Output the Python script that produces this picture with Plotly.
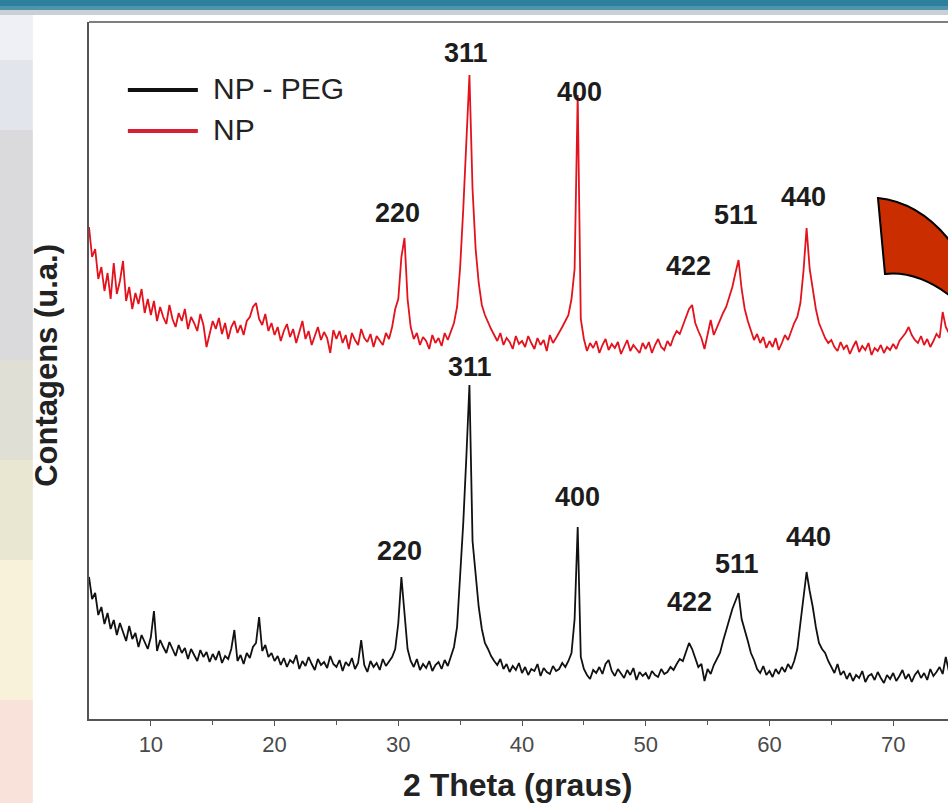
import plotly.graph_objects as go

# ---------------- data (heights in arbitrary units) ----------------
start_deg = 5.0
step_deg = 0.25

np_peg = [
    142, 120, 126, 104, 112, 95, 106, 90, 99, 84, 96, 88, 78, 93, 80, 86, 72, 84, 76, 70,
    82, 108, 68, 79, 72, 66, 77, 69, 63, 74, 66, 71, 60, 70, 64, 58, 69, 62, 67, 57,
    65, 59, 68, 56, 63, 60, 70, 89, 58, 64, 55, 66, 61, 72, 76, 102, 68, 74, 62, 66,
    58, 63, 54, 61, 52, 59, 56, 64, 50, 58, 53, 62, 55, 49, 60, 54, 57, 51, 63, 55,
    52, 59, 48, 57, 53, 61, 50, 56, 79, 54, 47, 58, 52, 56, 49, 60, 53, 57, 62, 70,
    96, 142, 104, 70, 58, 52, 60, 49, 55, 51, 58, 48, 54, 57, 50, 59, 53, 62, 72, 92,
    140, 196, 262, 334, 178, 146, 112, 90, 76, 70, 63, 58, 54, 60, 50, 55, 47, 53, 49, 56,
    46, 52, 44, 50, 48, 55, 43, 51, 47, 45, 53, 48, 50, 56, 52, 58, 66, 100, 192, 62,
    50, 44, 40, 49, 46, 52, 45, 55, 59, 48, 43, 50, 46, 41, 49, 44, 51, 39, 47, 43,
    46, 40, 48, 44, 42, 50, 45, 47, 52, 49, 55, 60, 58, 66, 76, 70, 60, 52, 55, 38,
    50, 45, 54, 60, 66, 78, 89, 100, 110, 118, 126, 100, 90, 78, 66, 59, 50, 46, 53, 44,
    48, 42, 50, 45, 52, 47, 55, 50, 58, 70, 96, 120, 147, 128, 112, 92, 76, 70, 66, 58,
    52, 46, 55, 44, 48, 40, 46, 38, 44, 41, 48, 37, 43, 45, 39, 47, 41, 36, 44, 40,
    46, 38, 43, 49, 40, 45, 37, 44, 48, 41, 46, 39, 50, 43, 47, 52, 45, 62, 48, 44,
]

np_bare = [
    492, 462, 470, 440, 452, 428, 446, 420, 456, 425, 438, 458, 418, 432, 410, 426, 415, 430, 406, 420,
    404, 418, 398, 412, 402, 395, 414, 400, 392, 406, 398, 410, 390, 402, 396, 388, 405, 394, 372, 386,
    398, 390, 401, 385, 396, 380, 392, 398, 386, 394, 384, 398, 402, 412, 416, 400, 394, 405, 388, 396,
    384, 392, 378, 388, 395, 382, 390, 376, 386, 398, 380, 388, 374, 384, 392, 379, 387, 381, 366, 389,
    380, 388, 376, 384, 370, 386, 379, 374, 390, 381, 377, 385, 372, 383, 378, 374, 386, 380, 392, 410,
    420, 462, 481, 420, 392, 380, 386, 374, 382, 378, 370, 384, 376, 381, 373, 386, 379, 388, 396, 412,
    452, 510, 580, 644, 530, 470, 436, 414, 404, 396, 390, 384, 378, 386, 374, 381, 377, 370, 383, 375,
    378, 372, 383, 376, 370, 381, 374, 379, 368, 384, 376, 381, 386, 392, 398, 404, 420, 450, 624, 400,
    380, 368, 376, 371, 378, 366, 374, 380, 369, 375, 371, 377, 365, 373, 379, 368, 374, 370, 366, 376,
    370, 377, 366, 374, 380, 372, 369, 378, 373, 382, 388, 385, 394, 402, 410, 414, 396, 388, 381, 370,
    386, 399, 384, 392, 398, 406, 412, 422, 432, 446, 459, 430, 410, 398, 388, 379, 385, 376, 382, 371,
    378, 372, 381, 369, 376, 384, 379, 388, 396, 402, 416, 448, 491, 450, 429, 410, 396, 388, 381, 376,
    379, 372, 368, 377, 370, 374, 365, 372, 378, 367, 373, 369, 376, 364, 371, 368, 374, 366, 372, 369,
    375, 370, 378, 382, 386, 392, 384, 379, 376, 383, 374, 380, 372, 378, 385, 381, 407, 392, 386, 380,
]

two_theta = [round(start_deg + step_deg * i, 2) for i in range(len(np_peg))]

peak_hkl = ["220", "311", "400", "422", "511", "440"]
np_label_x = [29.97, 35.48, 44.68, 53.42, 57.30, 62.79]
np_label_y = [506, 666, 627, 453, 504, 522]
peg_label_x = [30.13, 35.79, 44.52, 53.57, 57.37, 63.12]
peg_label_y = [168, 352, 222, 117, 155, 182]

x_ticks = [10, 20, 30, 40, 50, 60, 70]
series_names = ["NP - PEG", "NP"]

# ---------------- layout helpers (pixel -> paper) ----------------
W, H = 948, 803
L, R, T, B = 89.15, 0, 22, 84
PW = W - L - R
PH = H - T - B


def px(x):
    return (x - L) / PW


def py(y):
    return (H - B - y) / PH


FONT = "Liberation Sans, Arial, sans-serif"
BLACK = "#111111"
RED = "#e3121c"

fig = go.Figure()
fig.add_trace(go.Scatter(x=two_theta, y=np_peg, mode="lines", name=series_names[0],
                         line=dict(color=BLACK, width=1.8), showlegend=False))
fig.add_trace(go.Scatter(x=two_theta, y=np_bare, mode="lines", name=series_names[1],
                         line=dict(color=RED, width=1.8), showlegend=False))

shapes = []
# top banner
shapes.append(dict(type="rect", xref="paper", yref="paper", x0=px(-5), x1=px(960), y0=py(0), y1=py(-5),
                   fillcolor="#1f6884", line=dict(width=0), layer="below"))
shapes.append(dict(type="rect", xref="paper", yref="paper", x0=px(-5), x1=px(960), y0=py(6), y1=py(0),
                   fillcolor="#2c7f9d", line=dict(width=0), layer="below"))
shapes.append(dict(type="rect", xref="paper", yref="paper", x0=px(-5), x1=px(960), y0=py(10), y1=py(6),
                   fillcolor="#4f93ad", line=dict(width=0), layer="below"))
shapes.append(dict(type="rect", xref="paper", yref="paper", x0=px(-5), x1=px(960), y0=py(15), y1=py(10),
                   fillcolor="#c9d1d6", line=dict(width=0), layer="below"))
# left decorative strip
bands = [(15, 60, "#eef0f5"), (60, 130, "#e2e6ec"), (130, 360, "#dadadc"), (360, 460, "#dfdfd6"),
         (460, 560, "#e9e7d2"), (560, 700, "#f8f2da"), (700, 810, "#f8e2da")]
for y0, y1, c in bands:
    shapes.append(dict(type="rect", xref="paper", yref="paper", x0=px(-5), x1=px(33), y0=py(y1), y1=py(y0),
                       fillcolor=c, line=dict(width=0), layer="below"))
# top frame line
shapes.append(dict(type="line", xref="paper", yref="paper", x0=0, x1=1.01, y0=1, y1=1,
                   line=dict(color="#555555", width=1.5)))
# legend samples
shapes.append(dict(type="line", xref="paper", yref="paper", x0=px(128), x1=px(198), y0=py(90), y1=py(90),
                   line=dict(color=BLACK, width=4)))
shapes.append(dict(type="line", xref="paper", yref="paper", x0=px(128), x1=px(198), y0=py(131), y1=py(131),
                   line=dict(color="#d42030", width=4)))
# red arrow fragment on the right
path = (f"M {px(878)},{py(198)} Q {px(925)},{py(203)} {px(958)},{py(252)} "
        f"L {px(958)},{py(302)} Q {px(920)},{py(270)} {px(885)},{py(274)} Z")
shapes.append(dict(type="path", xref="paper", yref="paper", path=path,
                   fillcolor="#c92d00", line=dict(color="#000000", width=2)))

annotations = []
for lab, x, y in zip(peak_hkl, np_label_x, np_label_y):
    annotations.append(dict(x=x, y=y, xref="x", yref="y", text=f"<b>{lab}</b>", showarrow=False,
                            font=dict(family=FONT, size=27, color="#1c1c1c"), xanchor="center", yanchor="middle"))
for lab, x, y in zip(peak_hkl, peg_label_x, peg_label_y):
    annotations.append(dict(x=x, y=y, xref="x", yref="y", text=f"<b>{lab}</b>", showarrow=False,
                            font=dict(family=FONT, size=27, color="#1c1c1c"), xanchor="center", yanchor="middle"))
# legend labels
annotations.append(dict(x=px(211), y=py(89), xref="paper", yref="paper", text=series_names[0], showarrow=False,
                        font=dict(family=FONT, size=30, color="#222222"), xanchor="left", yanchor="middle"))
annotations.append(dict(x=px(211), y=py(130), xref="paper", yref="paper", text=series_names[1], showarrow=False,
                        font=dict(family=FONT, size=30, color="#222222"), xanchor="left", yanchor="middle"))
# axis titles
annotations.append(dict(x=px(518), y=py(785), xref="paper", yref="paper", text="<b>2 Theta (graus)</b>",
                        showarrow=False, font=dict(family=FONT, size=32, color="#222222"),
                        xanchor="center", yanchor="middle"))
annotations.append(dict(x=px(46), y=py(365), xref="paper", yref="paper", text="<b>Contagens (u.a.)</b>",
                        showarrow=False, textangle=-90, font=dict(family=FONT, size=31, color="#222222"),
                        xanchor="center", yanchor="middle"))

fig.update_layout(
    width=W, height=H,
    margin=dict(l=L, r=R, t=T, b=B, pad=0),
    paper_bgcolor="white", plot_bgcolor="white",
    showlegend=False,
    shapes=shapes, annotations=annotations,
    xaxis=dict(range=[5, 5 + (W - L - R) / 12.37], tickvals=x_ticks, ticks="outside", ticklen=5,
               tickcolor="#555555", showline=True, linecolor="#555555", linewidth=1.5,
               showgrid=False, zeroline=False, mirror=False,
               tickfont=dict(family=FONT, size=22, color="#4a4a4a"),
               minor=dict(tickvals=[15, 25, 35, 45, 55, 65], ticks="outside", ticklen=4, tickcolor="#555555")),
    yaxis=dict(range=[0, PH], showticklabels=False, ticks="", showline=True, linecolor="#555555",
               linewidth=1.5, showgrid=False, zeroline=False),
)

fig.write_html("out.html")
